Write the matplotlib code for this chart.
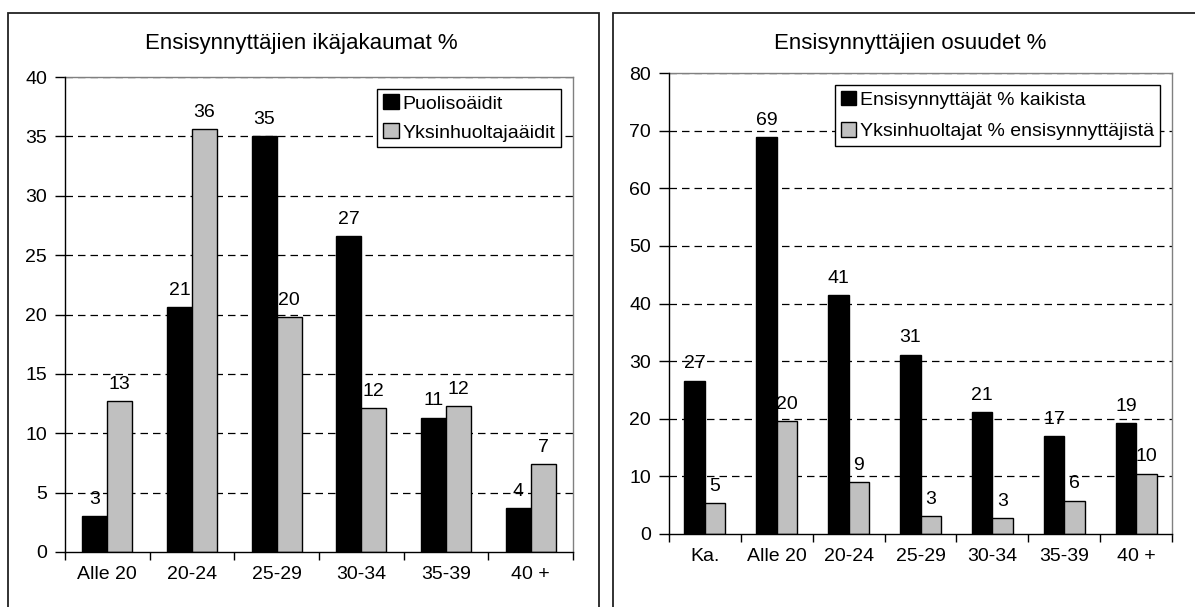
import numpy as np
import matplotlib
matplotlib.use("Agg")
import matplotlib.pyplot as plt
import matplotlib.patches as mpatches

plt.rcParams["font.family"] = ["Liberation Sans", "DejaVu Sans"]

# ─────────────────────────────────────────────
# DATA
# ─────────────────────────────────────────────

ika_luokat = ["Alle 20", "20-24", "25-29", "30-34", "35-39", "40 +"]
puolisoaidit = [3.0, 20.6, 35.0, 26.6, 11.3, 3.7]
yksinhuoltajaaidit = [12.7, 35.6, 19.8, 12.1, 12.3, 7.4]

osuus_luokat = ["Ka.", "Alle 20", "20-24", "25-29", "30-34", "35-39", "40 +"]
ensisynnyttajat_kaikista = [26.6, 68.9, 41.4, 31.1, 21.2, 17.0, 19.2]
yksinhuoltajat_ensisynn = [5.4, 19.6, 9.05, 3.15, 2.7, 5.8, 10.45]

W, H = 1195, 607
GRAY = "#c0c0c0"
FS = 14


def px_axes(fig, x0, x1, ytop, ybot):
    return fig.add_axes([x0 / W, (H - ybot) / H, (x1 - x0) / W, (ybot - ytop) / H])


def draw_panel(ax, cats, s1, s2, names, ymax, ystep, width, legend_spacing):
    n = len(cats)
    x = np.arange(n)
    b1 = ax.bar(x - width / 2, s1, width, color="black", edgecolor="black", linewidth=1, zorder=3)
    b2 = ax.bar(x + width / 2, s2, width, color=GRAY, edgecolor="black", linewidth=1, zorder=3)
    for bars, vals in ((b1, s1), (b2, s2)):
        for bar, v in zip(bars, vals):
            ax.annotate(f"{v:.0f}", (bar.get_x() + bar.get_width() / 2, bar.get_height()),
                        xytext=(0, 6), textcoords="offset points", ha="center", va="bottom",
                        fontsize=FS, zorder=5)

    ax.set_xlim(-0.5, n - 0.5)
    ax.set_ylim(0, ymax)
    ax.set_yticks(np.arange(0, ymax + 1, ystep))
    ax.set_xticks(np.arange(n + 1) - 0.5)
    ax.set_xticklabels([])
    ax.set_xticks(x, minor=True)
    ax.set_xticklabels(cats, minor=True, fontsize=FS)
    ax.tick_params(axis="x", which="major", direction="out", length=6, width=1)
    ax.tick_params(axis="x", which="minor", length=0, pad=10)
    ax.tick_params(axis="y", direction="out", length=7, width=1, pad=6, labelsize=FS)
    for y in np.arange(ystep, ymax + 1, ystep):
        ax.axhline(y, color="black", linewidth=0.9, linestyle=(0, (6, 4)), zorder=1)
    for side in ("top", "right"):
        ax.spines[side].set_color("#808080")
        ax.spines[side].set_linewidth(1)
    for side in ("left", "bottom"):
        ax.spines[side].set_color("black")
        ax.spines[side].set_linewidth(1)
        ax.spines[side].set_zorder(4)

    handles = [mpatches.Patch(facecolor="black", edgecolor="black", label=names[0]),
               mpatches.Patch(facecolor=GRAY, edgecolor="black", label=names[1])]
    leg = ax.legend(handles=handles, loc="upper right", fontsize=FS, fancybox=False,
                    framealpha=1, edgecolor="black", handlelength=0.8, handleheight=0.8,
                    handletextpad=0.2, borderpad=0.3, labelspacing=legend_spacing,
                    borderaxespad=0.6)
    leg.get_frame().set_linewidth(1)
    leg.set_zorder(6)


fig = plt.figure(figsize=(W / 100, H / 100), dpi=100)

# panel frames
fig.patches.append(mpatches.Rectangle((8 / W, -0.1), 591 / W, (H - 13) / H + 0.1,
                                      transform=fig.transFigure, fill=False,
                                      edgecolor="#222222", linewidth=1.3))
fig.patches.append(mpatches.Rectangle((613 / W, -0.1), 0.6, (H - 13) / H + 0.1,
                                      transform=fig.transFigure, fill=False,
                                      edgecolor="#222222", linewidth=1.3))

ax1 = px_axes(fig, 65, 573, 77, 552)
draw_panel(ax1, ika_luokat, puolisoaidit, yksinhuoltajaaidit,
           ["Puolisoäidit", "Yksinhuoltajaäidit"], 40, 5, 0.295, 0.55)
fig.text(301 / W, 1 - 44 / H, "Ensisynnyttäjien ikäjakaumat %", ha="center", va="center", fontsize=FS + 2)

ax2 = px_axes(fig, 669, 1172, 73, 534)
draw_panel(ax2, osuus_luokat, ensisynnyttajat_kaikista, yksinhuoltajat_ensisynn,
           ["Ensisynnyttäjät % kaikista", "Yksinhuoltajat % ensisynnyttäjistä"], 80, 10, 0.285, 0.7)
fig.text(910 / W, 1 - 44 / H, "Ensisynnyttäjien osuudet %", ha="center", va="center", fontsize=FS + 2)

fig.savefig("out.png", dpi=100)
